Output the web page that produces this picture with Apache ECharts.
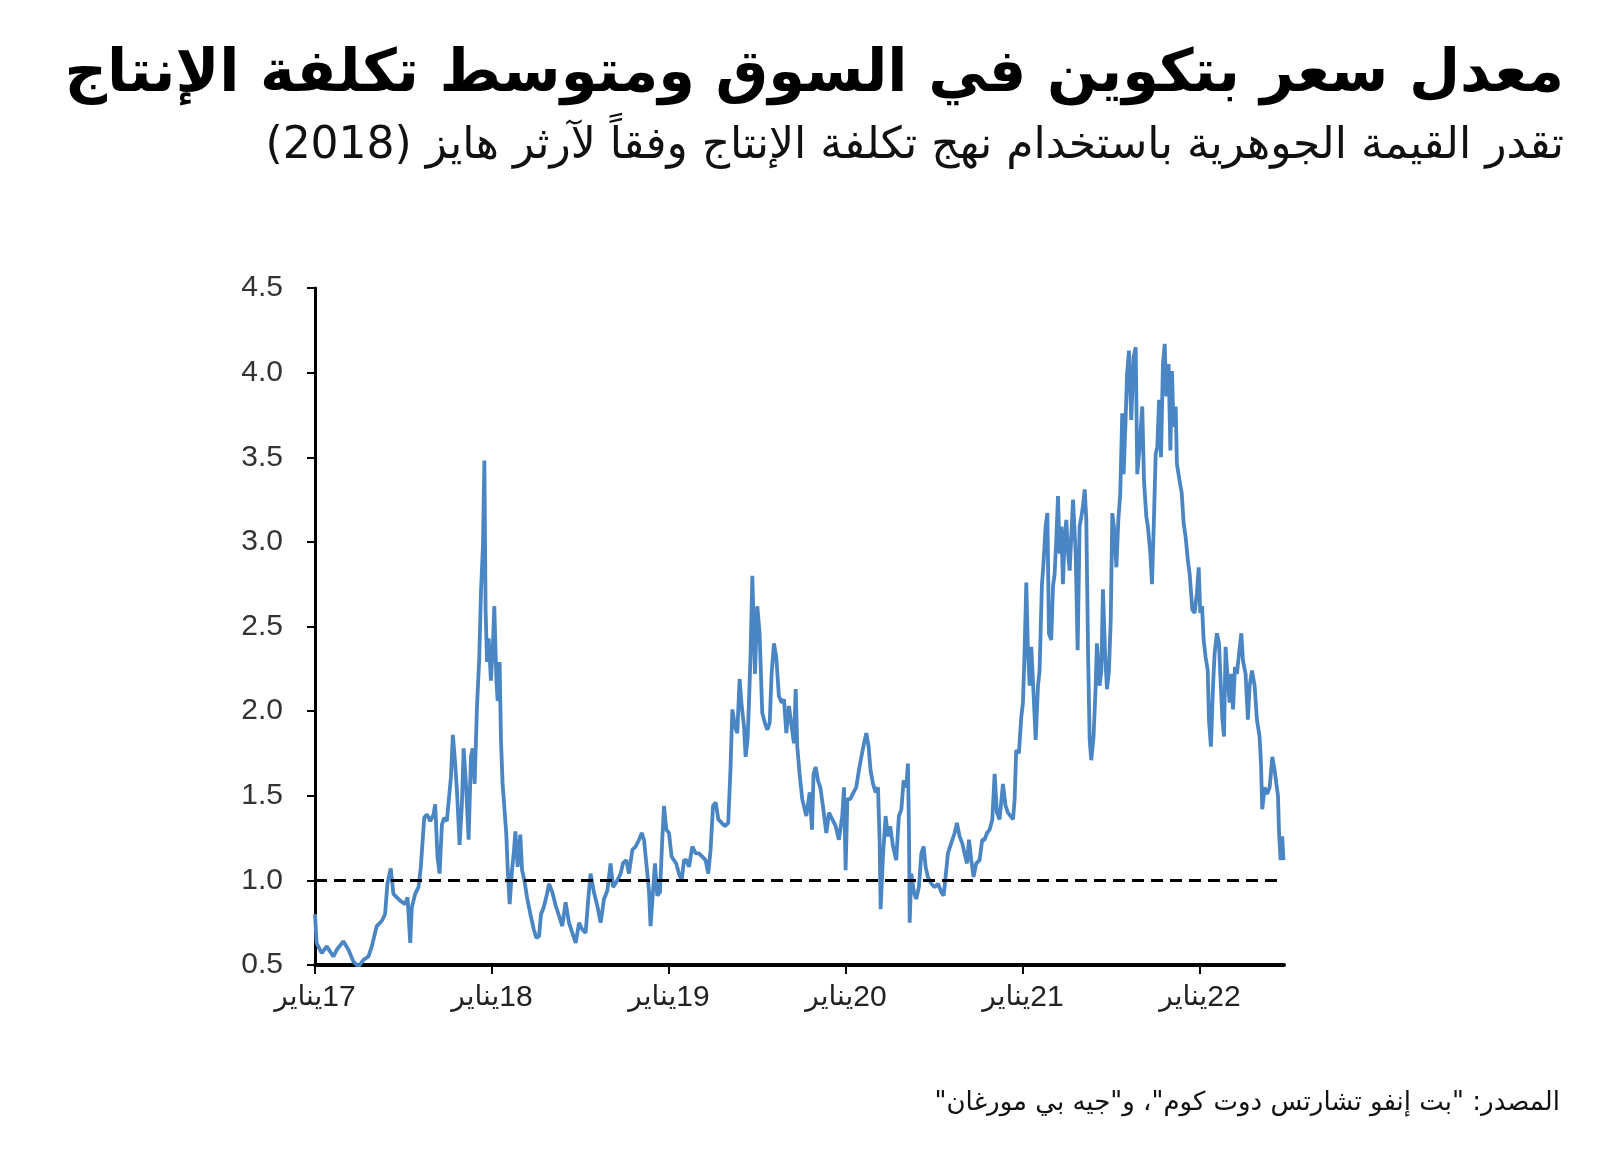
<!DOCTYPE html>
<html>
<head>
<meta charset="utf-8">
<script src="https://cdn.jsdelivr.net/npm/echarts@6/dist/echarts.min.js"></script>
<style>
html, body { margin: 0; padding: 0; background: #fff; }
#chart { width: 1600px; height: 1153px; }
#chart canvas { direction: rtl; }
</style>
</head>
<body>
<div id="chart"></div>
<script>
// ratio of bitcoin market price to average production cost, [decimal year, ratio]
var ratio2017 = [
  [2017.000, 0.80], [2017.009, 0.63], [2017.038, 0.57], [2017.066, 0.61], [2017.104, 0.55],
  [2017.123, 0.59], [2017.160, 0.64], [2017.189, 0.59], [2017.217, 0.52], [2017.245, 0.49],
  [2017.274, 0.53], [2017.302, 0.55], [2017.321, 0.61], [2017.349, 0.73], [2017.377, 0.76],
  [2017.396, 0.80], [2017.409, 0.98], [2017.428, 1.07], [2017.443, 0.92], [2017.462, 0.90],
  [2017.481, 0.88], [2017.509, 0.86], [2017.523, 0.90], [2017.538, 0.63], [2017.547, 0.84],
  [2017.566, 0.92], [2017.585, 0.96], [2017.598, 1.08], [2017.617, 1.37], [2017.632, 1.39],
  [2017.651, 1.35], [2017.670, 1.39], [2017.679, 1.45], [2017.692, 1.14], [2017.704, 1.04],
  [2017.717, 1.33], [2017.730, 1.37], [2017.745, 1.35], [2017.768, 1.61], [2017.779, 1.86],
  [2017.792, 1.69], [2017.802, 1.53], [2017.817, 1.21], [2017.830, 1.45], [2017.840, 1.78],
  [2017.853, 1.57], [2017.868, 1.24], [2017.881, 1.73], [2017.891, 1.78], [2017.902, 1.57],
  [2017.915, 2.02], [2017.928, 2.31], [2017.938, 2.71], [2017.949, 2.98], [2017.957, 3.48],
  [2017.964, 2.59], [2017.972, 2.29], [2017.981, 2.43], [2017.994, 2.18]
];
var ratio2018 = [
  [2018.006, 2.41], [2018.013, 2.62], [2018.025, 2.18], [2018.032, 2.06], [2018.043, 2.29],
  [2018.051, 1.82], [2018.060, 1.57], [2018.070, 1.43], [2018.081, 1.27], [2018.089, 1.06],
  [2018.100, 0.86], [2018.113, 1.06], [2018.123, 1.16], [2018.132, 1.29], [2018.145, 1.08],
  [2018.160, 1.27], [2018.170, 1.06], [2018.183, 1.00], [2018.198, 0.90], [2018.217, 0.80],
  [2018.236, 0.71], [2018.251, 0.66], [2018.266, 0.67], [2018.277, 0.80], [2018.292, 0.84],
  [2018.311, 0.92], [2018.322, 0.98], [2018.341, 0.93], [2018.360, 0.85], [2018.379, 0.79],
  [2018.397, 0.73], [2018.416, 0.87], [2018.435, 0.75], [2018.454, 0.69], [2018.473, 0.63],
  [2018.492, 0.75], [2018.510, 0.71], [2018.529, 0.69], [2018.544, 0.89], [2018.557, 1.04],
  [2018.576, 0.93], [2018.595, 0.85], [2018.614, 0.75], [2018.633, 0.89], [2018.652, 0.94],
  [2018.670, 1.10], [2018.684, 0.96], [2018.708, 1.00], [2018.727, 1.04], [2018.740, 1.10],
  [2018.759, 1.12], [2018.774, 1.04], [2018.793, 1.18], [2018.812, 1.20], [2018.831, 1.24],
  [2018.846, 1.28], [2018.859, 1.24], [2018.874, 1.08], [2018.887, 0.94], [2018.896, 0.73],
  [2018.910, 0.94], [2018.921, 1.10], [2018.934, 0.91], [2018.949, 0.93], [2018.962, 1.24],
  [2018.972, 1.44], [2018.985, 1.30]
];
var ratio2019 = [
  [2019.000, 1.28], [2019.015, 1.14], [2019.028, 1.12], [2019.041, 1.10], [2019.056, 1.04],
  [2019.072, 1.00], [2019.085, 1.12], [2019.098, 1.12], [2019.113, 1.08], [2019.132, 1.20],
  [2019.151, 1.16], [2019.169, 1.16], [2019.188, 1.14], [2019.207, 1.12], [2019.222, 1.04],
  [2019.235, 1.18], [2019.249, 1.44], [2019.264, 1.46], [2019.279, 1.36], [2019.298, 1.34],
  [2019.316, 1.32], [2019.335, 1.34], [2019.348, 1.67], [2019.358, 2.01], [2019.373, 1.91],
  [2019.386, 1.87], [2019.399, 2.19], [2019.411, 2.03], [2019.424, 1.91], [2019.433, 1.73],
  [2019.444, 1.83], [2019.452, 2.05], [2019.461, 2.34], [2019.471, 2.80], [2019.486, 2.22],
  [2019.499, 2.62], [2019.512, 2.46], [2019.527, 1.99], [2019.542, 1.93], [2019.556, 1.89],
  [2019.569, 1.93], [2019.580, 2.22], [2019.593, 2.40], [2019.606, 2.32], [2019.621, 2.09],
  [2019.637, 2.05], [2019.650, 2.07], [2019.663, 1.87], [2019.678, 2.03], [2019.693, 1.91],
  [2019.706, 1.81], [2019.716, 2.13], [2019.725, 1.79], [2019.738, 1.63], [2019.753, 1.48],
  [2019.776, 1.38], [2019.795, 1.52], [2019.808, 1.30], [2019.817, 1.63], [2019.829, 1.67],
  [2019.842, 1.59], [2019.855, 1.55], [2019.870, 1.44], [2019.889, 1.28], [2019.904, 1.40],
  [2019.923, 1.36], [2019.942, 1.32], [2019.960, 1.24], [2019.979, 1.38], [2019.989, 1.55],
  [2019.998, 1.06]
];
var ratio2020 = [
  [2020.008, 1.48], [2020.024, 1.48], [2020.043, 1.52], [2020.058, 1.55], [2020.073, 1.65],
  [2020.087, 1.73], [2020.102, 1.81], [2020.115, 1.87], [2020.128, 1.79], [2020.139, 1.65],
  [2020.153, 1.57], [2020.168, 1.52], [2020.181, 1.55], [2020.190, 1.24], [2020.196, 0.83],
  [2020.209, 1.14], [2020.224, 1.38], [2020.237, 1.26], [2020.250, 1.32], [2020.266, 1.20],
  [2020.284, 1.12], [2020.299, 1.38], [2020.313, 1.42], [2020.326, 1.59], [2020.341, 1.55],
  [2020.350, 1.69], [2020.356, 1.30], [2020.360, 0.75], [2020.369, 1.04], [2020.384, 0.93],
  [2020.397, 0.89], [2020.412, 0.96], [2020.426, 1.16], [2020.439, 1.20], [2020.450, 1.08],
  [2020.463, 1.02], [2020.482, 0.98], [2020.501, 0.96], [2020.520, 0.98], [2020.539, 0.93],
  [2020.552, 0.91], [2020.563, 1.02], [2020.576, 1.16], [2020.595, 1.22], [2020.614, 1.28],
  [2020.627, 1.34], [2020.642, 1.26], [2020.657, 1.22], [2020.670, 1.16], [2020.684, 1.10],
  [2020.695, 1.24], [2020.708, 1.12], [2020.721, 1.02], [2020.736, 1.10], [2020.755, 1.12],
  [2020.770, 1.24], [2020.783, 1.24], [2020.797, 1.28], [2020.812, 1.30], [2020.827, 1.36],
  [2020.840, 1.63], [2020.853, 1.40], [2020.868, 1.36], [2020.887, 1.57], [2020.902, 1.44],
  [2020.915, 1.40], [2020.930, 1.38], [2020.944, 1.36], [2020.953, 1.48], [2020.962, 1.77],
  [2020.977, 1.75], [2020.991, 1.97]
];
var ratio2021 = [
  [2021.000, 2.05], [2021.009, 2.34], [2021.019, 2.76], [2021.028, 2.36], [2021.038, 2.15],
  [2021.047, 2.38], [2021.056, 2.19], [2021.072, 1.83], [2021.085, 2.15], [2021.094, 2.24],
  [2021.107, 2.74], [2021.117, 2.89], [2021.128, 3.09], [2021.138, 3.17], [2021.147, 2.46],
  [2021.160, 2.42], [2021.170, 2.74], [2021.179, 2.81], [2021.189, 3.03], [2021.198, 3.27],
  [2021.207, 2.93], [2021.217, 3.09], [2021.226, 2.75], [2021.236, 3.03], [2021.245, 3.13],
  [2021.255, 2.93], [2021.264, 2.83], [2021.273, 3.03], [2021.283, 3.25], [2021.298, 2.93],
  [2021.309, 2.36], [2021.320, 3.09], [2021.330, 3.15], [2021.339, 3.21], [2021.349, 3.31],
  [2021.358, 3.13], [2021.368, 2.34], [2021.377, 1.83], [2021.386, 1.71], [2021.399, 1.85],
  [2021.411, 2.15], [2021.418, 2.40], [2021.433, 2.15], [2021.443, 2.24], [2021.452, 2.72],
  [2021.464, 2.34], [2021.475, 2.13], [2021.486, 2.24], [2021.496, 2.54], [2021.505, 3.17],
  [2021.514, 3.09], [2021.528, 2.85], [2021.539, 3.13], [2021.550, 3.29], [2021.561, 3.76],
  [2021.569, 3.40], [2021.580, 3.72], [2021.588, 3.99], [2021.599, 4.13], [2021.612, 3.72],
  [2021.625, 4.09], [2021.637, 4.15], [2021.646, 3.40], [2021.659, 3.56], [2021.674, 3.80],
  [2021.684, 3.36], [2021.697, 3.15], [2021.706, 3.09], [2021.720, 2.93], [2021.729, 2.75],
  [2021.740, 3.13], [2021.750, 3.52], [2021.759, 3.56], [2021.769, 3.84], [2021.780, 3.50],
  [2021.791, 4.05], [2021.801, 4.17], [2021.810, 3.86], [2021.823, 4.05], [2021.833, 3.54],
  [2021.842, 4.01], [2021.851, 3.68], [2021.863, 3.80], [2021.870, 3.46], [2021.885, 3.36],
  [2021.897, 3.29], [2021.908, 3.11], [2021.919, 3.03], [2021.932, 2.89], [2021.942, 2.81],
  [2021.957, 2.60], [2021.970, 2.58], [2021.983, 2.70], [2021.993, 2.85]
];
var ratio2022 = [
  [2022.002, 2.58], [2022.012, 2.62], [2022.021, 2.42], [2022.032, 2.32], [2022.044, 2.24],
  [2022.051, 1.95], [2022.062, 1.79], [2022.074, 2.15], [2022.083, 2.34], [2022.096, 2.46],
  [2022.108, 2.40], [2022.115, 2.22], [2022.127, 1.95], [2022.136, 1.85], [2022.145, 2.38],
  [2022.157, 2.18], [2022.168, 2.05], [2022.177, 2.22], [2022.187, 2.01], [2022.198, 2.26],
  [2022.209, 2.22], [2022.221, 2.34], [2022.234, 2.46], [2022.243, 2.30], [2022.258, 2.22],
  [2022.271, 1.95], [2022.281, 2.15], [2022.294, 2.24], [2022.309, 2.15], [2022.322, 1.95],
  [2022.337, 1.85], [2022.345, 1.69], [2022.352, 1.42], [2022.366, 1.55], [2022.379, 1.51],
  [2022.394, 1.55], [2022.409, 1.73], [2022.422, 1.65], [2022.432, 1.57], [2022.441, 1.50],
  [2022.447, 1.28], [2022.456, 1.12], [2022.465, 1.26], [2022.472, 1.12]
];

var tickYears = [2017, 2018, 2019, 2020, 2021, 2022];
var tickLabels = ['17', '18', '19', '20', '21', '22'];
var monthName = 'يناير';
var costLine = 1.0;

var titleText = 'معدل سعر بتكوين في السوق ومتوسط تكلفة الإنتاج';
var subtitleText = 'تقدر القيمة الجوهرية باستخدام نهج تكلفة الإنتاج وفقاً لآرثر هايز (2018)';
var sourceText = 'المصدر: "بت إنفو تشارتس دوت كوم"، و"جيه بي مورغان"';

var chart = echarts.init(document.getElementById('chart'));

chart.setOption({
  backgroundColor: '#fff',
  animation: false,
  title: [
    {
      text: titleText,
      right: 36,
      top: 46,
      padding: 0,
      textStyle: { fontFamily: 'DejaVu Sans', fontWeight: 'bold', fontSize: 59, color: '#000' }
    },
    {
      text: subtitleText,
      right: 36,
      top: 125,
      padding: 0,
      textStyle: { fontFamily: 'DejaVu Sans', fontWeight: 'normal', fontSize: 44, color: '#111' }
    },
    {
      text: sourceText,
      right: 40,
      top: 1090,
      padding: 0,
      textStyle: { fontFamily: 'DejaVu Sans', fontWeight: 'normal', fontSize: 26, color: '#111' }
    }
  ],
  grid: {
    left: 315,
    right: 316,
    top: 288,
    bottom: 188
  },
  xAxis: {
    type: 'value',
    min: 2017,
    max: 2022.475,
    splitLine: { show: false },
    axisLine: { lineStyle: { color: '#000', width: 4 } },
    axisTick: {
      show: true,
      length: 9,
      customValues: tickYears,
      lineStyle: { color: '#000', width: 2 }
    },
    axisLabel: {
      margin: 18,
      customValues: tickYears,
      formatter: function (v) {
        var i = tickYears.indexOf(Math.round(v));
        return '{m|' + monthName + '}{y|' + tickLabels[i] + '}';
      },
      rich: {
        m: { fontFamily: 'DejaVu Sans', fontSize: 28, color: '#222' },
        y: { fontFamily: 'Liberation Sans', fontSize: 30, color: '#222' }
      }
    }
  },
  yAxis: {
    type: 'value',
    min: 0.5,
    max: 4.5,
    interval: 0.5,
    splitLine: { show: false },
    axisLine: { show: true, lineStyle: { color: '#000', width: 3 } },
    axisTick: { show: true, length: 8, lineStyle: { color: '#000', width: 2 } },
    axisLabel: {
      margin: 32,
      fontFamily: 'Liberation Sans',
      fontSize: 30,
      color: '#333',
      formatter: function (v) { return v.toFixed(1); }
    }
  },
  series: [
    {
      type: 'line',
      showSymbol: false,
      data: [].concat(ratio2017, ratio2018, ratio2019, ratio2020, ratio2021, ratio2022),
      lineStyle: { color: '#4a86c4', width: 3.8 },
      markLine: {
        silent: true,
        symbol: ['none', 'none'],
        label: { show: false },
        lineStyle: { color: '#000', type: [12, 7], width: 3 },
        data: [{ yAxis: costLine }]
      }
    }
  ]
});
</script>
</body>
</html>
